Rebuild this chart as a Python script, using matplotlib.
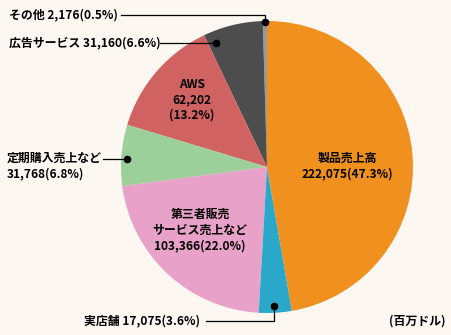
import numpy as np
import matplotlib.pyplot as plt

plt.rcParams['font.family'] = ['Noto Sans CJK JP', 'DejaVu Sans']

# データ（百万ドル）: 反時計回りに 90度から
names = ['その他', '広告サービス', 'AWS', '定期購入売上など', '第三者販売\nサービス売上など', '実店舗', '製品売上高']
values = [2176, 31160, 62202, 31768, 103366, 17075, 222075]
shares = [0.5, 6.6, 13.2, 6.8, 22.0, 3.6, 47.3]
colors = ['#9a9a9a', '#4d4d4d', '#d06262', '#9dcf9b', '#e8a1c9', '#2aa8c9', '#f0901f']

BG = '#fdf7f1'
W, H = 452, 335
fig = plt.figure(figsize=(W / 100, H / 100), dpi=100, facecolor=BG)

# 円の中心とピクセル半径
cx, cy, R = 267, 167, 146
ax = fig.add_axes([(cx - R) / W, (H - cy - R) / H, 2 * R / W, 2 * R / H])
ax.pie(values, colors=colors, startangle=90, counterclock=True, radius=1,
       wedgeprops=dict(linewidth=0))
ax.set_xlim(-1, 1)
ax.set_ylim(-1, 1)
ax.set_aspect('auto')
ax.axis('off')


def fmt(v, s):
    return f'{v:,} ({s:.1f}%)'.replace(' (', '(')


def px(x, y):
    # ピクセル座標 -> figure 座標
    return x / W, 1 - y / H


# 円内ラベル
fs = 8.6
ls = 1.25
fig.text(*px(192, 100), f'AWS\n{values[2]:,}\n({shares[2]:.1f}%)', ha='center', va='center',
         fontsize=fs, fontweight='bold', linespacing=ls)
fig.text(*px(347, 166), f'{names[6]}\n{fmt(values[6], shares[6])}', ha='center', va='center',
         fontsize=fs, fontweight='bold', linespacing=ls)
fig.text(*px(200, 230), f'{names[4]}\n{fmt(values[4], shares[4])}', ha='center', va='center',
         fontsize=fs, fontweight='bold', linespacing=ls)

# 引き出し線ラベル: (テキスト, テキスト位置px, 線の経路px)
callouts = [
    (f'{names[0]} {fmt(values[0], shares[0])}', (9, 15), [(121, 15), (265, 15), (265, 22)]),
    (f'{names[1]} {fmt(values[1], shares[1])}', (9, 43), [(160, 43), (216, 43)]),
    (f'{names[3]}\n{fmt(values[3], shares[3])}', (7, 166), [(103, 159), (127, 159)]),
    (f'{names[5]} {fmt(values[5], shares[5])}', (84, 321), [(206, 321), (274, 321), (274, 306)]),
]
for txt, (tx, ty), path in callouts:
    fig.text(*px(tx, ty), txt, ha='left', va='center', fontsize=fs, fontweight='bold',
             linespacing=ls)
    xs = [px(x, y)[0] for x, y in path]
    ys = [px(x, y)[1] for x, y in path]
    fig.add_artist(plt.Line2D(xs, ys, color='black', lw=0.9, transform=fig.transFigure))
    fig.add_artist(plt.Line2D([xs[-1]], [ys[-1]], marker='o', markersize=4.5, color='black',
                              transform=fig.transFigure))

fig.text(*px(446, 321), '(百万ドル)', ha='right', va='center', fontsize=fs, fontweight='bold')

fig.savefig('out.png', dpi=100, facecolor=BG)
